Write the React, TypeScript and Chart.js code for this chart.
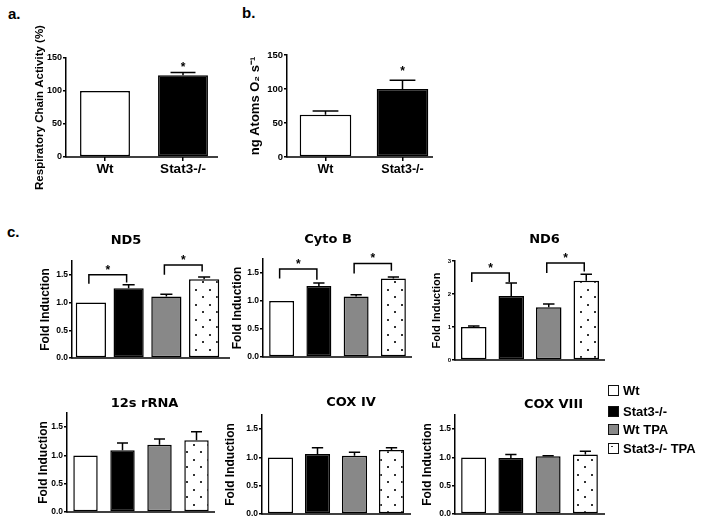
import React, { useEffect, useRef } from "react";
import { Chart, registerables } from "chart.js";

Chart.register(...registerables);

const SANS = '"Liberation Sans", Arial, Helvetica, sans-serif';
const TITLE_FONT = '"DejaVu Sans", "Liberation Sans", sans-serif';

// ---------- data ----------
const groupsAB = ["Wt", "Stat3-/-"];
const respChainActivity = [100, 124];
const respChainErr = [0, 4];
const respChainSig = [false, true];
const oxygenRate = [62, 100];
const oxygenErr = [5.5, 13];
const oxygenSig = [false, true];

const groupsC = ["Wt", "Stat3-/-", "Wt TPA", "Stat3-/- TPA"];
const nd5Values = [1.0, 1.26, 1.11, 1.42];
const nd5Err = [0, 0.06, 0.04, 0.04];
const cytoBValues = [1.0, 1.27, 1.08, 1.4];
const cytoBErr = [0, 0.05, 0.03, 0.03];
const nd6Values = [1.0, 1.94, 1.6, 2.4];
const nd6Err = [0.03, 0.39, 0.1, 0.2];
const rRNA12sValues = [1.0, 1.09, 1.19, 1.27];
const rRNA12sErr = [0, 0.13, 0.1, 0.15];
const cox4Values = [1.0, 1.06, 1.03, 1.13];
const cox4Err = [0, 0.11, 0.06, 0.04];
const cox8Values = [1.0, 0.99, 1.02, 1.05];
const cox8Err = [0, 0.06, 0.01, 0.06];

// significance brackets: [fromIndex, toIndex, lineValue, leftLegEnd, rightLegEnd]
const nd5Brackets = [
  [0, 1, 1.5, 1.34, 1.36],
  [2, 3, 1.68, 1.5, 1.56],
];
const cytoBBrackets = [
  [0, 1, 1.57, 1.4, 1.38],
  [2, 3, 1.67, 1.49, 1.54],
];
const nd6Brackets = [
  [0, 1, 2.64, 2.36, 2.36],
  [2, 3, 2.94, 2.64, 2.68],
];

const WHITE = "#ffffff";
const BLACK = "#000000";
const GRAY = "#888888";
const DOTS = "dots";
const fillsAB = [WHITE, BLACK];
const fillsC = [WHITE, BLACK, GRAY, DOTS];

// ---------- helpers ----------
function makeDotPattern(ctx: CanvasRenderingContext2D) {
  const c = document.createElement("canvas");
  c.width = 14;
  c.height = 15;
  const g = c.getContext("2d")!;
  g.fillStyle = "#ffffff";
  g.fillRect(0, 0, 14, 15);
  g.fillStyle = "#333333";
  g.fillRect(3, 4, 2, 2);
  g.fillRect(10, 11, 2, 2);
  return ctx.createPattern(c, "repeat");
}

type PanelCfg = {
  x: number; y: number; w: number; h: number;
  L: number; T: number; R: number; B: number;
  labels: string[]; values: number[]; errors: number[]; fills: string[];
  barPct: number; yMax: number; step: number; decimals: number; tickSize: number;
  yTitle: string; yTitleSize: number;
  xTicks: boolean; xLabelSize?: number; xLabelPad?: number;
  axisExt: number; capRatio: number;
  stars?: boolean[]; starGap?: number;
  brackets?: number[][];
};

function makeOverlay(cfg: PanelCfg) {
  return {
    id: "overlay",
    afterDatasetsDraw(chart: any) {
      const { ctx, chartArea } = chart;
      const ys = chart.scales.y;
      const meta = chart.getDatasetMeta(0);
      ctx.save();
      ctx.strokeStyle = "#000";
      ctx.lineWidth = 1.5;
      // x axis line
      ctx.beginPath();
      ctx.moveTo(chartArea.left - 0.75, chartArea.bottom);
      ctx.lineTo(chartArea.right + cfg.axisExt, chartArea.bottom);
      ctx.stroke();
      // error bars (upper only)
      meta.data.forEach((el: any, i: number) => {
        const err = cfg.errors[i];
        if (!err) return;
        const v = cfg.values[i];
        const y0 = ys.getPixelForValue(v);
        const y1 = ys.getPixelForValue(v + err);
        const half = (el.width * cfg.capRatio) / 2;
        ctx.beginPath();
        ctx.moveTo(el.x, y0);
        ctx.lineTo(el.x, y1);
        ctx.moveTo(el.x - half, y1);
        ctx.lineTo(el.x + half, y1);
        ctx.stroke();
      });
      ctx.fillStyle = "#000";
      ctx.font = `bold 12px ${SANS}`;
      ctx.textAlign = "center";
      ctx.textBaseline = "alphabetic";
      (cfg.stars || []).forEach((s, i) => {
        if (!s) return;
        const el = meta.data[i];
        const top = ys.getPixelForValue(cfg.values[i] + (cfg.errors[i] || 0));
        ctx.fillText("*", el.x, top - (cfg.starGap || 10) + 7);
      });
      (cfg.brackets || []).forEach(([a, b, lv, la, lb]) => {
        const xa = meta.data[a].x - 2;
        const xb = meta.data[b].x - 2;
        const yl = ys.getPixelForValue(lv);
        ctx.beginPath();
        ctx.moveTo(xa, ys.getPixelForValue(la));
        ctx.lineTo(xa, yl);
        ctx.lineTo(xb, yl);
        ctx.lineTo(xb, ys.getPixelForValue(lb));
        ctx.stroke();
        ctx.fillText("*", (xa + xb) / 2, yl - 1);
      });
      ctx.restore();
    },
  };
}

function BarPanel({ cfg }: { cfg: PanelCfg }) {
  const ref = useRef<HTMLCanvasElement>(null);
  useEffect(() => {
    const canvas = ref.current!;
    const ctx = canvas.getContext("2d")!;
    const pattern = makeDotPattern(ctx);
    const bg = cfg.fills.map((f) => (f === DOTS ? pattern : f));
    const chart = new Chart(canvas, {
      type: "bar",
      data: {
        labels: cfg.labels,
        datasets: [
          {
            data: cfg.values,
            backgroundColor: bg as any,
            borderColor: "#000",
            borderWidth: 1.5,
            borderSkipped: false,
            barPercentage: cfg.barPct,
            categoryPercentage: 1,
          },
        ],
      },
      options: {
        responsive: false,
        animation: false,
        devicePixelRatio: 1,
        layout: {
          padding: { top: cfg.T - cfg.y, right: cfg.x + cfg.w - cfg.R, left: 0, bottom: 0 },
        },
        plugins: {
          legend: { display: false },
          tooltip: { enabled: false },
          title: { display: false },
        },
        scales: {
          x: {
            type: "category",
            offset: true,
            grid: {
              display: cfg.xTicks,
              drawOnChartArea: false,
              offset: false,
              tickLength: 4,
              color: "#000",
              lineWidth: 1.5,
            },
            border: { display: false },
            ticks: {
              display: cfg.xTicks,
              color: "#000",
              padding: cfg.xLabelPad ?? 0,
              maxRotation: 0,
              autoSkip: false,
              font: { family: SANS, size: cfg.xLabelSize ?? 12, weight: "bold" },
            },
            afterFit: (s: any) => {
              s.height = cfg.y + cfg.h - cfg.B;
            },
          },
          y: {
            min: 0,
            max: cfg.yMax,
            grid: { drawOnChartArea: false, tickLength: 3, color: "#000", lineWidth: 1.5 },
            border: { display: true, color: "#000", width: 1.5 },
            ticks: {
              stepSize: cfg.step,
              includeBounds: false,
              color: "#000",
              padding: 1,
              font: { family: SANS, size: cfg.tickSize, weight: "bold" },
              callback: (v: any) => Number(v).toFixed(cfg.decimals),
            },
            title: {
              display: true,
              text: cfg.yTitle,
              color: "#000",
              padding: 0,
              font: { family: SANS, size: cfg.yTitleSize, weight: "bold" },
            },
            afterFit: (s: any) => {
              s.width = cfg.L - cfg.x;
            },
          },
        },
      } as any,
      plugins: [makeOverlay(cfg)],
    });
    return () => chart.destroy();
  }, []);
  return (
    <canvas
      ref={ref}
      width={cfg.w}
      height={cfg.h}
      style={{ position: "absolute", left: cfg.x, top: cfg.y, width: cfg.w, height: cfg.h }}
    />
  );
}

// ---------- panels ----------
const panelA: PanelCfg = {
  x: 33, y: 15, w: 199, h: 187, L: 66, T: 58, R: 222, B: 157,
  labels: groupsAB, values: respChainActivity, errors: respChainErr, fills: fillsAB,
  barPct: 0.64, yMax: 150, step: 50, decimals: 0, tickSize: 9,
  yTitle: "Respiratory Chain Activity (%)", yTitleSize: 11.5,
  xTicks: true, xLabelSize: 13.5, xLabelPad: 0, axisExt: -4, capRatio: 0.5,
  stars: respChainSig, starGap: 9,
};
const panelB: PanelCfg = {
  x: 248, y: 30, w: 203, h: 157, L: 287, T: 55, R: 441, B: 157,
  labels: groupsAB, values: oxygenRate, errors: oxygenErr, fills: fillsAB,
  barPct: 0.67, yMax: 150, step: 50, decimals: 0, tickSize: 9.5,
  yTitle: "ng Atoms O\u2082 s\u207B\u00B9", yTitleSize: 13,
  xTicks: true, xLabelSize: 12.5, xLabelPad: 1, axisExt: -8, capRatio: 0.5,
  stars: oxygenSig, starGap: 12,
};
const panelND5: PanelCfg = {
  x: 38, y: 240, w: 197, h: 128, L: 72, T: 261, R: 223, B: 358,
  labels: groupsC, values: nd5Values, errors: nd5Err, fills: fillsC,
  barPct: 0.8, yMax: 1.75, step: 0.5, decimals: 1, tickSize: 8.5,
  yTitle: "Fold Induction", yTitleSize: 12,
  xTicks: false, axisExt: 7, capRatio: 0.4, brackets: nd5Brackets,
};
const panelCytoB: PanelCfg = {
  x: 230, y: 240, w: 192, h: 127, L: 263, T: 259, R: 412, B: 357,
  labels: groupsC, values: cytoBValues, errors: cytoBErr, fills: fillsC,
  barPct: 0.67, yMax: 1.75, step: 0.5, decimals: 1, tickSize: 8.5,
  yTitle: "Fold Induction", yTitleSize: 12,
  xTicks: false, axisExt: 0, capRatio: 0.45, brackets: cytoBBrackets,
};
const panelND6: PanelCfg = {
  x: 430, y: 240, w: 187, h: 130, L: 455, T: 261, R: 605, B: 360,
  labels: groupsC, values: nd6Values, errors: nd6Err, fills: fillsC,
  barPct: 0.68, yMax: 3, step: 1, decimals: 0, tickSize: 6,
  yTitle: "Fold Induction", yTitleSize: 11,
  xTicks: false, axisExt: 0, capRatio: 0.45, brackets: nd6Brackets,
};
const panel12s: PanelCfg = {
  x: 36, y: 395, w: 189, h: 127, L: 67, T: 413, R: 215, B: 512,
  labels: groupsC, values: rRNA12sValues, errors: rRNA12sErr, fills: fillsC,
  barPct: 0.66, yMax: 1.75, step: 0.5, decimals: 1, tickSize: 8.5,
  yTitle: "Fold Induction", yTitleSize: 12,
  xTicks: false, axisExt: 0, capRatio: 0.45,
};
const panelCox4: PanelCfg = {
  x: 223, y: 395, w: 197, h: 128, L: 262, T: 415, R: 410, B: 514,
  labels: groupsC, values: cox4Values, errors: cox4Err, fills: fillsC,
  barPct: 0.68, yMax: 1.75, step: 0.5, decimals: 1, tickSize: 8.5,
  yTitle: "Fold Induction", yTitleSize: 12,
  xTicks: false, axisExt: 1, capRatio: 0.45,
};
const panelCox8: PanelCfg = {
  x: 420, y: 395, w: 194, h: 128, L: 455, T: 415, R: 604, B: 514,
  labels: groupsC, values: cox8Values, errors: cox8Err, fills: fillsC,
  barPct: 0.67, yMax: 1.75, step: 0.5, decimals: 1, tickSize: 8.5,
  yTitle: "Fold Induction", yTitleSize: 12,
  xTicks: false, axisExt: 1, capRatio: 0.45,
};

const panels = [panelA, panelB, panelND5, panelCytoB, panelND6, panel12s, panelCox4, panelCox8];

const panelLetters = [
  { text: "a.", x: 8, base: 18.5 },
  { text: "b.", x: 242, base: 18 },
  { text: "c.", x: 7, base: 237 },
];
const panelTitles = [
  { text: "ND5", cx: 126, base: 243.5 },
  { text: "Cyto B", cx: 328, base: 243 },
  { text: "ND6", cx: 544.5, base: 243.3 },
  { text: "12s rRNA", cx: 144.5, base: 406.7 },
  { text: "COX IV", cx: 351, base: 405.7 },
  { text: "COX VIII", cx: 553.5, base: 407.5 },
];
const legendBase = [394.5, 416, 434, 452.5];

function Txt({ text, left, top, size, family, center }: any) {
  return (
    <div
      style={{
        position: "absolute",
        left,
        top,
        fontFamily: family,
        fontSize: size,
        fontWeight: "bold",
        lineHeight: `${size}px`,
        whiteSpace: "nowrap",
        color: "#000",
        transform: center ? "translateX(-50%)" : undefined,
      }}
    >
      {text}
    </div>
  );
}

export default function App() {
  return (
    <div
      style={{
        position: "absolute",
        left: 0,
        top: 0,
        width: 704,
        height: 523,
        background: "#fff",
        overflow: "hidden",
      }}
    >
      {panels.map((p, i) => (
        <BarPanel key={i} cfg={p} />
      ))}
      {panelLetters.map((l, i) => (
        <Txt key={"l" + i} text={l.text} left={l.x} top={l.base - 12.7} size={15} family={SANS} />
      ))}
      {panelTitles.map((t, i) => (
        <Txt key={"t" + i} text={t.text} left={t.cx} top={t.base - 11} size={13} family={TITLE_FONT} center />
      ))}
      {groupsC.map((g, i) => (
        <React.Fragment key={"g" + i}>
          <div
            style={{
              position: "absolute",
              left: 608,
              top: legendBase[i] - 10,
              width: 11,
              height: 11,
              boxSizing: "border-box",
              border: "1.5px solid #111",
              background: fillsC[i] === DOTS ? WHITE : fillsC[i],
            }}
          >
            {fillsC[i] === DOTS && (
              <div
                style={{
                  position: "absolute",
                  left: 2,
                  top: 2,
                  width: 1.5,
                  height: 1.5,
                  background: "#333",
                }}
              />
            )}
          </div>
          <Txt text={g} left={623} top={legendBase[i] - 11} size={13} family={SANS} />
        </React.Fragment>
      ))}
    </div>
  );
}
